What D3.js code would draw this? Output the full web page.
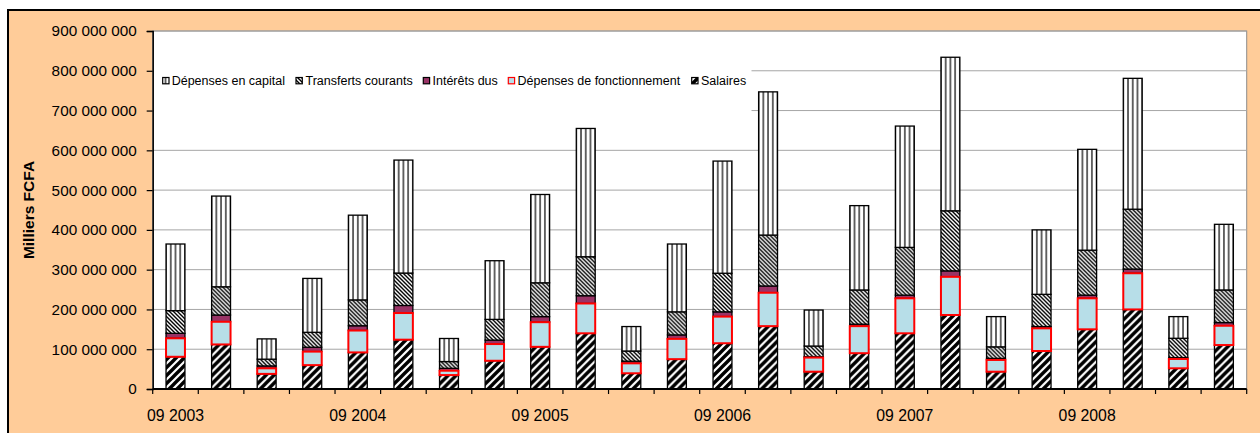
<!DOCTYPE html>
<html>
<head>
<meta charset="utf-8">
<script src="https://cdn.jsdelivr.net/npm/d3@7"></script>
<style>
  html, body { margin: 0; padding: 0; background: #ffffff; }
  svg { display: block; font-family: "Liberation Sans", Arial, sans-serif; }
</style>
</head>
<body>
<svg id="chart" width="1260" height="433"></svg>
<script>
// Quarterly categories (month year)
const categories = [
  "09 2003", "12 2003", "03 2004", "06 2004",
  "09 2004", "12 2004", "03 2005", "06 2005",
  "09 2005", "12 2005", "03 2006", "06 2006",
  "09 2006", "12 2006", "03 2007", "06 2007",
  "09 2007", "12 2007", "03 2008", "06 2008",
  "09 2008", "12 2008", "03 2009", "06 2009"
];
// Categories that carry a label on the x axis
const tickLabels = ["09 2003", "09 2004", "09 2005", "09 2006", "09 2007", "09 2008"];
const yTicks = [0, 100e6, 200e6, 300e6, 400e6, 500e6, 600e6, 700e6, 800e6, 900e6];

// Expenditure components, in thousands of FCFA
const salaires = [
  81e6, 112e6, 38e6, 60e6, 92e6, 124e6, 35e6, 71e6, 106e6, 140e6, 39.5e6, 75e6,
  115e6, 158e6, 43.5e6, 90e6, 140e6, 186e6, 43.5e6, 95.5e6, 150e6, 200e6, 52e6, 110.5e6
];
const fonctionnement = [
  46.5e6, 57e6, 14e6, 34e6, 55e6, 67e6, 11e6, 42e6, 62e6, 75e6, 25e6, 51e6,
  67e6, 84e6, 35.5e6, 68e6, 88e6, 96e6, 29.5e6, 57e6, 78e6, 91e6, 23.5e6, 48.5e6
];
const interets = [
  12.5e6, 17e6, 6e6, 11e6, 12e6, 19e6, 6e6, 10e6, 14e6, 19.5e6, 5.5e6, 10e6,
  12e6, 17e6, 2e6, 5e6, 8e6, 15e6, 4e6, 4.5e6, 8e6, 10.5e6, 3.5e6, 8e6
];
const transferts = [
  57e6, 71e6, 17e6, 37.5e6, 65e6, 81.5e6, 17e6, 52e6, 85e6, 98e6, 25.5e6, 58e6,
  97e6, 128e6, 27e6, 86e6, 120e6, 151e6, 29e6, 81e6, 113e6, 150.5e6, 48.5e6, 82e6
];
const capital = [
  167.5e6, 228e6, 51e6, 135.5e6, 213e6, 284e6, 58e6, 147.5e6, 222e6, 322.5e6, 61.5e6, 170.5e6,
  282e6, 360e6, 90.5e6, 212e6, 305e6, 386e6, 76e6, 162e6, 253.5e6, 329e6, 54.5e6, 165e6
];

// Stack order, bottom to top
const seriesKeys = ["sal", "fonct", "int", "tr", "cap"];
const seriesNames = {
  cap: "Dépenses en capital",
  tr: "Transferts courants",
  int: "Intérêts dus",
  fonct: "Dépenses de fonctionnement",
  sal: "Salaires"
};

const table = categories.map((c, i) => ({
  cat: c,
  sal: salaires[i],
  fonct: fonctionnement[i],
  int: interets[i],
  tr: transferts[i],
  cap: capital[i]
}));

const svg = d3.select("#chart");
const W = 1260, H = 433;
const plot = { left: 152.7, right: 1246.7, top: 31, bottom: 389 };

// Outer chart area
svg.append("rect").attr("x", 0).attr("y", 0).attr("width", W).attr("height", H).attr("fill", "#ffffff");
svg.append("rect")
  .attr("x", 8).attr("y", 10).attr("width", W + 20).attr("height", H + 20)
  .attr("fill", "#FFCC99").attr("stroke", "#000").attr("stroke-width", 2);

// Fill patterns
const defs = svg.append("defs");
const x = d3.scaleBand().domain(categories).range([plot.left, plot.right]).paddingInner(0).paddingOuter(0);
const bw = x.bandwidth() * 0.415;

const pSal = defs.append("pattern").attr("id", "pat-sal")
  .attr("patternUnits", "userSpaceOnUse").attr("width", 8).attr("height", 8);
pSal.append("rect").attr("width", 8).attr("height", 8).attr("fill", "#fff");
pSal.append("path").attr("d", "M-2,2 L2,-2 M0,8 L8,0 M6,10 L10,6")
  .attr("stroke", "#000").attr("stroke-width", 3.4);

const pTr = defs.append("pattern").attr("id", "pat-tr")
  .attr("patternUnits", "userSpaceOnUse").attr("width", 4).attr("height", 4);
pTr.append("rect").attr("width", 4).attr("height", 4).attr("fill", "#fff");
pTr.append("path").attr("d", "M-1,-1 L5,5 M-1,3 L1,5 M3,-1 L5,1")
  .attr("stroke", "#000").attr("stroke-width", 1.4);

const capStep = bw / 4;
const pCap = defs.append("pattern").attr("id", "pat-cap")
  .attr("patternUnits", "userSpaceOnUse").attr("width", capStep).attr("height", 10);
pCap.append("rect").attr("width", capStep).attr("height", 10).attr("fill", "#fff");
pCap.append("rect").attr("x", -0.6).attr("width", 1.2).attr("height", 10).attr("fill", "#000");
pCap.append("rect").attr("x", capStep - 0.6).attr("width", 1.2).attr("height", 10).attr("fill", "#000");

const fills = { sal: "url(#pat-sal)", fonct: "#B7DEE8", int: "#993366", tr: "url(#pat-tr)", cap: "url(#pat-cap)" };
const strokes = { sal: "#000", fonct: "#FF0000", int: "#000", tr: "#000", cap: "#000" };
const strokeW = { sal: 1.3, fonct: 2, int: 1.3, tr: 1.3, cap: 1.3 };

// Plot area
svg.append("rect")
  .attr("x", plot.left).attr("y", plot.top)
  .attr("width", plot.right - plot.left).attr("height", plot.bottom - plot.top)
  .attr("fill", "#fff").attr("stroke", "#8c8c8c").attr("stroke-width", 1);

const y = d3.scaleLinear().domain([0, 900e6]).range([plot.bottom, plot.top]);

// Horizontal gridlines
svg.append("g").selectAll("line").data(yTicks.filter(t => t > 0)).join("line")
  .attr("x1", plot.left).attr("x2", plot.right)
  .attr("y1", d => y(d)).attr("y2", d => y(d))
  .attr("stroke", "#a6a6a6").attr("stroke-width", 1);

// Legend box (sits over the gridlines)
const legendItems = [
  { key: "cap", icon: 162.7, text: 171.7 },
  { key: "tr", icon: 296, text: 305.5 },
  { key: "int", icon: 423.3, text: 432.5 },
  { key: "fonct", icon: 508.3, text: 517.5 },
  { key: "sal", icon: 691.7, text: 701 }
];
svg.append("rect").attr("x", plot.left + 1).attr("y", 55).attr("width", 751.5 - plot.left - 1).attr("height", 68)
  .attr("fill", "#fff");

// Stacked bars
const stack = d3.stack().keys(seriesKeys)(table);
const drawOrder = ["sal", "int", "tr", "cap", "fonct"];
const barsG = svg.append("g");
drawOrder.forEach(key => {
  const layer = stack.find(s => s.key === key);
  barsG.append("g").selectAll("rect").data(layer).join("rect")
    .attr("transform", d => `translate(${x(d.data.cat) + (x.bandwidth() - bw) / 2},0)`)
    .attr("x", 0)
    .attr("width", bw)
    .attr("y", d => y(d[1]))
    .attr("height", d => y(d[0]) - y(d[1]))
    .attr("fill", fills[key])
    .attr("stroke", strokes[key])
    .attr("stroke-width", strokeW[key]);
});

// Legend entries
const lg = svg.append("g");
legendItems.forEach(it => {
  lg.append("rect")
    .attr("x", it.icon).attr("y", 77.5).attr("width", 6.3).attr("height", 6.3)
    .attr("fill", fills[it.key])
    .attr("stroke", strokes[it.key]).attr("stroke-width", 1.2);
  lg.append("text")
    .attr("x", it.text).attr("y", 84.5)
    .attr("font-size", 12.5).attr("fill", "#000")
    .text(seriesNames[it.key]);
});

// Y axis
const fr = d3.formatLocale({ decimal: ",", thousands: "\u00a0", grouping: [3], currency: ["", ""] });
const yAxis = d3.axisLeft(y).tickValues(yTicks).tickSize(6).tickPadding(10).tickFormat(fr.format(",.0f"));
const gy = svg.append("g").attr("transform", `translate(${plot.left},0)`).call(yAxis);
gy.select(".domain").attr("stroke", "#000").attr("stroke-width", 1.5);
gy.selectAll(".tick line").attr("stroke", "#000").attr("stroke-width", 1.2);
gy.selectAll(".tick text").attr("font-size", 15.3).attr("fill", "#000")
  .attr("font-family", "'Liberation Sans', Arial, sans-serif");

// X axis: category boundaries as ticks, labels centred under selected quarters
const gx = svg.append("g");
gx.append("line").attr("x1", plot.left).attr("x2", plot.right)
  .attr("y1", plot.bottom).attr("y2", plot.bottom)
  .attr("stroke", "#000").attr("stroke-width", 1.8);
const bounds = categories.map(c => x(c)).concat([x(categories[categories.length - 1]) + x.bandwidth()]);
gx.selectAll("line.tk").data(bounds).join("line").attr("class", "tk")
  .attr("x1", d => d).attr("x2", d => d)
  .attr("y1", plot.bottom).attr("y2", plot.bottom + 5)
  .attr("stroke", "#000").attr("stroke-width", 1.2);
gx.selectAll("text").data(tickLabels).join("text")
  .attr("x", d => x(d) + x.bandwidth() / 2)
  .attr("y", 420.5)
  .attr("text-anchor", "middle")
  .attr("font-size", 15.8).attr("fill", "#000")
  .text(d => d);

// Y axis title
svg.append("text")
  .attr("transform", `translate(34,210) rotate(-90)`)
  .attr("text-anchor", "middle")
  .attr("font-size", 15.5).attr("font-weight", "bold").attr("fill", "#000")
  .text("Milliers FCFA");
</script>
</body>
</html>
